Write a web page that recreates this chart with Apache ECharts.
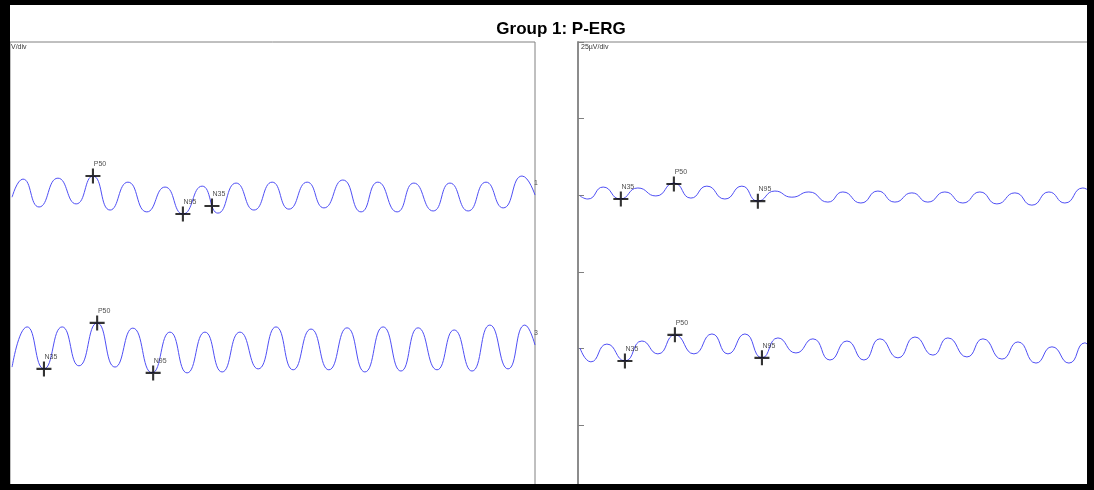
<!DOCTYPE html>
<html>
<head>
<meta charset="utf-8">
<title>Group 1: P-ERG</title>
<script src="https://cdn.jsdelivr.net/npm/echarts@6/dist/echarts.min.js"></script>
<style>
  html, body { margin: 0; padding: 0; background: #fff; }
  #chart { width: 1094px; height: 490px; }
</style>
</head>
<body>
<div id="chart"></div>
<script>
// time in ms, amplitude in µV relative to the trace baseline
// channel 1 (left, upper trace)
const ch1Time = [0.6, 3.7, 8.3, 13.7, 18.9, 23.7, 28.6, 33.7, 39.1, 44.3, 49.4, 54.9, 59.4, 64.6, 69.7, 74.9, 79.7, 84.9, 89.7, 95.1, 100.3, 105.1, 110.6, 115.4, 120.9, 125.7, 130.9, 136.0, 140.9, 146.3, 150];
const ch1Uv = [-0.6, 5.3, -3.8, 5.6, -2.8, 6.3, -4.8, 4.3, -5.4, 2.7, -6.1, 3.0, -5.8, 4.0, -4.8, 4.3, -4.5, 4.3, -4.1, 5.0, -5.4, 4.3, -5.4, 4.0, -5.1, 4.0, -5.1, 4.3, -4.1, 6.3, 0.1];
// channel 3 (left, lower trace)
const ch3Time = [0.6, 4.9, 9.7, 14.9, 19.7, 24.9, 30.0, 35.1, 40.6, 45.7, 50.6, 55.7, 60.6, 65.7, 70.9, 76.0, 80.9, 86.0, 91.1, 96.3, 101.4, 106.6, 111.7, 116.6, 122.0, 126.9, 132.0, 137.1, 142.3, 147.1, 150];
const ch3Uv = [-6.0, 7.1, -6.6, 7.1, -5.6, 8.4, -6.0, 6.7, -7.9, 5.4, -7.9, 5.4, -7.6, 5.4, -6.6, 7.1, -6.9, 6.4, -6.9, 6.8, -7.6, 7.1, -7.3, 6.8, -6.9, 6.1, -7.3, 7.7, -6.6, 7.7, 1.2];
// channel 2 (right, upper trace)
const ch2Time = [0.6, 2.9, 7.4, 12.4, 17.6, 22.9, 28.2, 33.2, 37.9, 43.2, 48.2, 52.9, 57.9, 62.9, 67.9, 73.5, 77.9, 83.2, 88.2, 93.2, 98.2, 102.9, 107.9, 113.2, 118.2, 123.2, 128.5, 133.5, 138.5, 143.2, 148.5, 150];
const ch2Uv = [-0.2, -1.2, 2.7, -1.2, 2.4, -0.2, 4.0, -0.9, 3.0, -1.2, 3.0, -1.9, 1.4, -0.6, 1.1, -2.2, 1.1, -2.5, 1.4, -2.2, 0.8, -2.2, 1.1, -2.5, 1.1, -2.8, 0.8, -3.2, 1.1, -2.5, 2.4, 1.7];
// channel 4 (right, lower trace)
const ch4Time = [0.6, 3.8, 8.5, 13.8, 18.8, 23.5, 28.5, 34.1, 39.4, 44.1, 49.1, 54.1, 58.8, 64.1, 69.1, 74.1, 79.1, 84.1, 88.8, 94.1, 99.1, 104.4, 108.8, 114.4, 119.1, 124.7, 129.4, 134.7, 139.4, 144.4, 149.1, 150];
const ch4Uv = [0.2, -4.3, 1.5, -4.0, 2.5, -1.7, 4.5, -1.7, 4.8, -1.7, 4.8, -3.0, 3.5, -1.4, 3.2, -3.7, 2.5, -3.7, 3.2, -3.0, 3.8, -2.1, 3.5, -2.7, 3.2, -3.4, 2.2, -4.7, 0.6, -4.7, 1.9, 1.2];

// cursor marks: name, time (ms), amplitude (µV)
const ch1Marks = [['P50', 23.7, 6.3], ['N95', 49.4, -6.1], ['N35', 57.7, -3.5]];
const ch3Marks = [['N35', 9.7, -6.6], ['P50', 24.9, 8.4], ['N95', 40.9, -7.9]];
const ch2Marks = [['N35', 12.6, -1.2], ['P50', 28.2, 3.7], ['N95', 52.9, -1.9]];
const ch4Marks = [['N35', 13.8, -4.0], ['P50', 28.5, 4.5], ['N95', 54.1, -3.0]];

const yTicks = [0, 25, 50, 75, 100, 125, 150];

const chart = echarts.init(document.getElementById('chart'));

// each trace is drawn on its own baseline (µV) so the two channels stack
function trace(time, uv, base, idx, chName) {
  return {
    type: 'line',
    xAxisIndex: idx,
    yAxisIndex: idx,
    data: time.map((t, i) => [t, uv[i] + base]),
    smooth: 0.55,
    showSymbol: false,
    silent: true,
    lineStyle: { color: '#4f4ff5', width: 1 },
    endLabel: {
      show: true,
      formatter: chName,
      fontSize: 7,
      color: '#555',
      offset: [-9, -12]
    },
    z: 2
  };
}

function marks(list, base, idx) {
  return {
    type: 'scatter',
    xAxisIndex: idx,
    yAxisIndex: idx,
    data: list.map(m => ({ name: m[0], value: [m[1], m[2] + base] })),
    // plus-shaped cursor
    symbol: 'path://M8.6,0h2.8v8.6h8.6v2.8h-8.6v8.6h-2.8v-8.6h-8.6v-2.8h8.6z',
    symbolSize: 15,
    itemStyle: { color: '#000' },
    label: {
      show: true,
      formatter: '{b}',
      position: 'top',
      distance: 1,
      offset: [7, 0],
      fontSize: 7,
      fontFamily: 'Liberation Sans',
      color: '#222'
    },
    silent: true,
    z: 3
  };
}

const option = {
  animation: false,
  backgroundColor: '#fff',
  title: {
    text: 'Group 1: P-ERG',
    left: 556,
    top: 16,
    textAlign: 'center',
    textStyle: { fontSize: 17, fontWeight: 'bold', fontFamily: 'Liberation Sans', color: '#000' }
  },
  // panels run below the frame, so the bottom tick sits off the picture
  grid: [
    { left: 10, top: 42, width: 525, height: 460, outerBoundsMode: 'none', show: true, borderColor: '#808080', borderWidth: 1 },
    { left: 578, top: 42, width: 510, height: 460, outerBoundsMode: 'none', show: true, borderColor: '#808080', borderWidth: 1 }
  ],
  xAxis: [
    { gridIndex: 0, type: 'value', min: 0, max: 150, show: false },
    { gridIndex: 1, type: 'value', min: 0, max: 150, show: false }
  ],
  yAxis: [
    { gridIndex: 0, type: 'value', min: yTicks[0], max: yTicks[yTicks.length - 1], interval: 25,
      axisLine: { show: false }, axisTick: { show: false }, axisLabel: { show: false }, splitLine: { show: false } },
    { gridIndex: 1, type: 'value', min: yTicks[0], max: yTicks[yTicks.length - 1], interval: 25,
      axisLine: { show: true, lineStyle: { color: '#8c8c8c', width: 2 } },
      axisTick: { show: true, inside: true, length: 6, lineStyle: { color: '#808080', width: 1 } },
      axisLabel: { show: false }, splitLine: { show: false } }
  ],
  graphic: [
    // scale captions, top-left of each panel
    { type: 'text', left: 11, top: 44, z: 10, style: { text: 'V/div', fontSize: 7, fontFamily: 'Liberation Sans', fill: '#333' } },
    { type: 'text', left: 581, top: 44, z: 10, style: { text: '25µV/div', fontSize: 7, fontFamily: 'Liberation Sans', fill: '#333' } },
    // black frame around the whole picture
    { type: 'rect', z: 100, shape: { x: 0, y: 0, width: 1094, height: 5 }, style: { fill: '#000' } },
    { type: 'rect', z: 100, shape: { x: 0, y: 0, width: 10, height: 490 }, style: { fill: '#000' } },
    { type: 'rect', z: 100, shape: { x: 1087, y: 0, width: 7, height: 490 }, style: { fill: '#000' } },
    { type: 'rect', z: 100, shape: { x: 0, y: 484, width: 1094, height: 6 }, style: { fill: '#000' } }
  ],
  series: [
    trace(ch1Time, ch1Uv, 100, 0, '1'),
    trace(ch3Time, ch3Uv, 50, 0, '3'),
    trace(ch2Time, ch2Uv, 100, 1, '2'),
    trace(ch4Time, ch4Uv, 50, 1, '4'),
    marks(ch1Marks, 100, 0),
    marks(ch3Marks, 50, 0),
    marks(ch2Marks, 100, 1),
    marks(ch4Marks, 50, 1)
  ]
};

chart.setOption(option);
</script>
</body>
</html>
